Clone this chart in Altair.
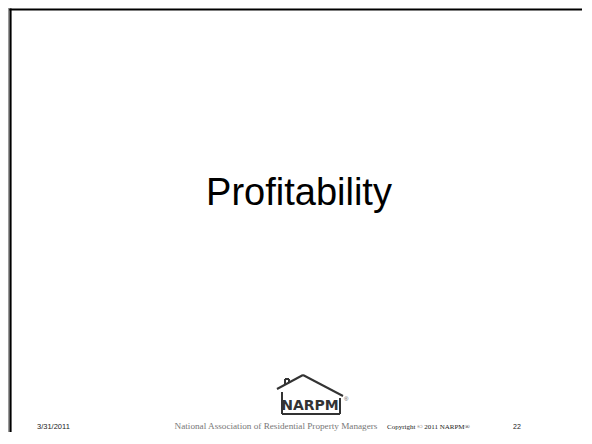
import altair as alt
import pandas as pd

# ---- slide content ----
title_text = ["Profitability"]
footer_date = ["3/31/2011"]
footer_org = ["National Association of Residential Property Managers"]
footer_copy = ["Copyright \u00a9 2011 NARPM\u00ae"]
footer_page = ["22"]
logo_word = ["NARPM"]

W, H = 574, 424
base = alt.Chart(pd.DataFrame({"k": [0]}))


def rule(x1, y1, x2, y2, color="#333333", width=2.0):
    enc = {"x": alt.value(x1), "y": alt.value(y1)}
    if x2 != x1:
        enc["x2"] = alt.value(x2)
    if y2 != y1:
        enc["y2"] = alt.value(y2)
    return base.mark_rule(color=color, strokeWidth=width).encode(**enc)


def band(x1, y1, x2, y2, color):
    return base.mark_rect(color=color, strokeWidth=0).encode(
        x=alt.value(x1), x2=alt.value(x2), y=alt.value(y1), y2=alt.value(y2)
    )


def label(txt, x, y, size, font="Liberation Sans", color="#000000", align="left",
          weight="normal"):
    return base.mark_text(
        align=align, baseline="alphabetic", fontSize=size, font=font,
        color=color, fontWeight=weight
    ).encode(x=alt.value(x), y=alt.value(y), text=alt.value(txt))


layers = []
# slide frame (top and left edges)
layers.append(band(0, 0, 1.2, H, "#9a9a9a"))
layers.append(band(1.4, 0.4, 3.6, H, "#000000"))
layers.append(band(1.4, 0.4, W, 2.6, "#000000"))

# title
layers.append(label(title_text[0], 291, 197, 38, align="center"))

# logo: house outline
layers += [
    rule(269, 381, 295, 367),
    rule(295, 367, 335, 388),
    rule(277, 377, 277, 371),
    rule(277, 371, 281, 371),
    rule(281, 371, 281, 375),
    rule(274, 384, 274, 406),
    rule(274, 406, 332, 406),
    rule(332, 390, 332, 406),
]
layers.append(label(logo_word[0], 302, 402, 14, font="DejaVu Sans", color="#333333",
                    align="center", weight="bold"))
layers.append(label("\u00ae", 336, 393, 6, color="#555555"))

# footer
layers.append(label(footer_date[0], 29, 421, 7.5, color="#222222"))
layers.append(label(footer_org[0], 268, 421, 9.2, font="Liberation Serif", color="#777777",
                    align="center"))
layers.append(label(footer_copy[0], 379, 421, 7, font="Liberation Serif", color="#222222"))
layers.append(label(footer_page[0], 505, 421, 7, color="#222222"))

chart = alt.layer(*layers).properties(
    width=W, height=H, padding=0, autosize=alt.AutoSizeParams(type="none"),
    background="white"
).configure_view(stroke=None)

chart.save("out.html", embed_options={"renderer": "svg", "actions": False})
